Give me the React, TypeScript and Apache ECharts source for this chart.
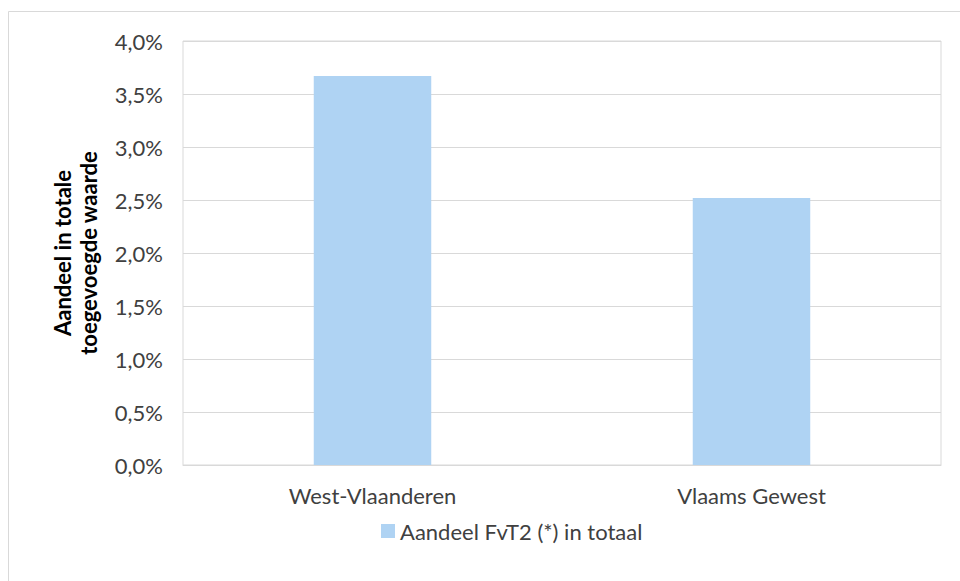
import React, { useEffect, useRef } from "react";
import * as echarts from "echarts";

const categories = ["West-Vlaanderen", "Vlaams Gewest"];
const values = [3.67, 2.52];
const seriesName = "Aandeel FvT2 (*) in totaal";
const yAxisTitle = "Aandeel in totale\ntoegevoegde waarde";

export default function App() {
  const ref = useRef<HTMLDivElement>(null);
  useEffect(() => {
    const chart = echarts.init(ref.current!, null, { renderer: "svg" });
    const font = "Lato, 'Open Sans', sans-serif";
    chart.setOption({
      animation: false,
      backgroundColor: "#ffffff",
      textStyle: { fontFamily: font },
      graphic: [
        {
          type: "rect",
          shape: { x: 8.5, y: 11.5, width: 1000, height: 700 },
          style: { fill: "none", stroke: "#d9d9d9", lineWidth: 1 },
          silent: true,
          z: -10,
        },
      ],
      grid: {
        left: 183,
        top: 41,
        right: 19,
        bottom: 116,
        show: true,
        borderColor: "#d9d9d9",
        borderWidth: 1,
      },
      legend: {
        top: 515,
        left: 376,
        itemWidth: 14,
        itemHeight: 14,
        itemGap: 5,
        icon: "rect",
        textStyle: { fontSize: 22, color: "#404040", fontFamily: font },
        data: [seriesName],
      },
      xAxis: {
        type: "category",
        data: categories,
        axisLine: { show: true, lineStyle: { color: "#d9d9d9" } },
        axisTick: { show: false },
        axisLabel: { fontSize: 22, color: "#404040", margin: 19, fontFamily: font },
      },
      yAxis: {
        type: "value",
        min: 0,
        max: 4,
        interval: 0.5,
        name: yAxisTitle,
        nameLocation: "middle",
        nameGap: 82,
        nameTextStyle: {
          fontSize: 22,
          fontWeight: "bold",
          color: "#000000",
          lineHeight: 26,
          fontFamily: font,
        },
        axisLine: { show: false },
        axisTick: { show: false },
        splitLine: { lineStyle: { color: "#d9d9d9", width: 1 } },
        axisLabel: {
          fontSize: 22,
          color: "#404040",
          margin: 20,
          fontFamily: font,
          formatter: (v: number) => v.toFixed(1).replace(".", ",") + "%",
        },
      },
      series: [
        {
          name: seriesName,
          type: "bar",
          data: values,
          barWidth: "31%",
          itemStyle: { color: "#afd3f3" },
        },
      ],
    });
    return () => chart.dispose();
  }, []);
  return (
    <div
      ref={ref}
      style={{ position: "absolute", left: 0, top: 0, width: 960, height: 581 }}
    />
  );
}
